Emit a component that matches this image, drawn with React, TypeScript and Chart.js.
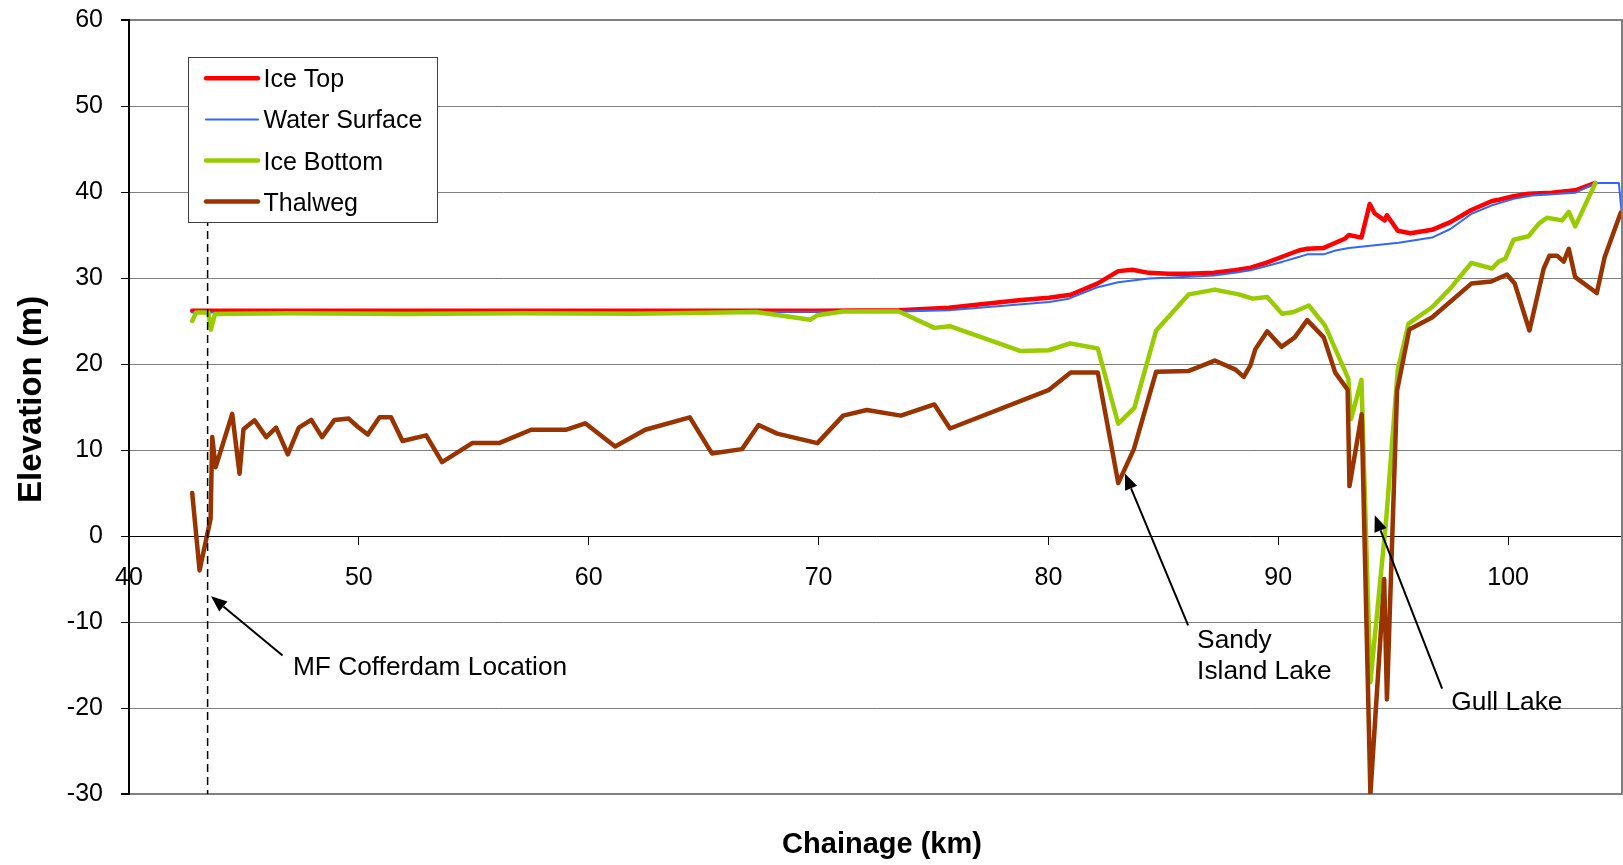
import React, { useEffect, useRef } from 'react';
import { Chart, registerables } from 'chart.js';

Chart.register(...registerables);

const FONT = '"Liberation Sans", Arial, Helvetica, sans-serif';

// ---- data: [chainage km, elevation m] ----
const iceTop: [number, number][] = [
  [42.75, 26.2], [50, 26.2], [60, 26.2], [70, 26.2], [73.5, 26.25], [75.67, 26.55], [78.7, 27.4],
  [80.03, 27.7], [80.97, 28.05], [82.13, 29.35], [83.04, 30.8], [83.65, 30.95], [84.37, 30.6],
  [85.2, 30.5], [86.1, 30.5], [87.2, 30.6], [88.1, 30.9], [88.8, 31.2], [89.5, 31.8], [90.2, 32.5],
  [90.89, 33.2], [91.26, 33.4], [91.98, 33.5], [92.49, 34.1], [92.92, 34.6], [93.07, 35.0],
  [93.62, 34.7], [93.98, 38.6], [94.2, 37.5], [94.63, 36.7], [94.73, 37.3], [95.2, 35.5],
  [95.75, 35.2], [96.69, 35.6], [97.49, 36.5], [98.4, 37.9], [99.3, 38.95], [99.6, 39.1],
  [100.24, 39.5], [100.89, 39.8], [101.9, 39.9], [102.92, 40.2], [103.8, 41.05],
];

const waterSurface: [number, number][] = [
  [42.75, 26.0], [60, 26.0], [73.5, 26.1], [75.67, 26.25], [80.03, 27.2], [80.89, 27.6], [82.1, 28.9],
  [83.04, 29.5], [84.37, 29.95], [86.1, 30.15], [87.2, 30.3], [88.1, 30.6], [88.8, 30.9],
  [89.5, 31.4], [90.2, 31.9], [90.89, 32.45], [91.26, 32.75], [91.98, 32.75], [92.49, 33.2],
  [93.07, 33.5], [95.24, 34.1], [96.69, 34.7], [97.49, 35.7], [98.43, 37.5], [99.3, 38.45],
  [100.24, 39.2], [101.04, 39.6], [102.92, 39.9], [103.8, 41.05], [104.82, 41.05], [104.93, 37.9],
];

const iceBottom: [number, number][] = [
  [42.75, 25.0], [42.92, 26.0], [43.45, 26.0], [43.56, 24.0], [43.74, 25.8], [47, 25.9], [52, 25.8],
  [57, 25.9], [62, 25.85], [67.3, 26.05], [69.65, 25.15], [69.94, 25.66], [71.06, 26.1],
  [73.5, 26.1], [75.04, 24.2], [75.71, 24.4], [78.8, 21.5], [80.02, 21.6], [80.95, 22.4],
  [82.15, 21.8], [83.04, 13.05], [83.74, 14.9], [84.69, 23.9], [86.11, 28.1], [87.24, 28.65],
  [88.28, 28.1], [88.89, 27.6], [89.52, 27.8], [90.17, 25.85], [90.67, 26.05], [91.33, 26.8],
  [92.03, 24.5], [93.05, 18.3], [93.17, 13.6], [93.62, 18.15], [94.01, -17.0], [94.7, 2.0],
  [95.2, 19.3], [95.67, 24.7], [96.69, 26.6], [97.49, 28.8], [98.4, 31.75], [99.3, 31.1],
  [99.59, 31.9], [99.88, 32.25], [100.24, 34.45], [100.89, 34.85], [101.33, 36.3], [101.69, 37.0],
  [102.35, 36.7], [102.64, 37.7], [102.92, 36.0], [103.8, 41.05],
];

const thalweg: [number, number][] = [
  [42.75, 5.0], [43.07, -4.0], [43.55, 2.0], [43.62, 11.5], [43.77, 8.0], [44.49, 14.2],
  [44.81, 7.25], [44.98, 12.4], [45.46, 13.45], [45.97, 11.5], [46.4, 12.6], [46.91, 9.5],
  [47.39, 12.6], [47.93, 13.5], [48.4, 11.5], [48.94, 13.5], [49.56, 13.65], [49.95, 12.7],
  [50.39, 11.8], [50.9, 13.8], [51.4, 13.8], [51.9, 11.05], [52.93, 11.7], [53.62, 8.6],
  [54.93, 10.8], [56.1, 10.8], [57.5, 12.35], [59.0, 12.35], [59.85, 13.1], [61.15, 10.4],
  [62.46, 12.35], [64.4, 13.8], [65.36, 9.6], [66.67, 10.1], [67.39, 12.9], [68.2, 11.9],
  [69.95, 10.8], [71.07, 14.0], [72.1, 14.65], [73.58, 14.0], [75.04, 15.3], [75.72, 12.5],
  [80.03, 17.0], [80.97, 19.0], [82.15, 19.0], [83.04, 6.15], [83.72, 10.1], [84.69, 19.1],
  [86.11, 19.2], [87.24, 20.4], [88.14, 19.35], [88.5, 18.5], [88.79, 19.85], [89.0, 21.7],
  [89.52, 23.8], [90.14, 22.0], [90.72, 23.1], [91.26, 25.1], [91.98, 23.1], [92.48, 19.0],
  [93.02, 17.0], [93.1, 5.8], [93.63, 14.15], [94.01, -30.0], [94.61, -5.0], [94.73, -19.0],
  [95.17, 16.9], [95.7, 24.0], [96.69, 25.4], [98.4, 29.35], [99.27, 29.6], [99.95, 30.4],
  [100.29, 29.35], [100.93, 23.9], [101.55, 31.1], [101.8, 32.6], [102.13, 32.6], [102.42, 31.9],
  [102.64, 33.4], [102.92, 30.1], [103.86, 28.25], [104.2, 32.4], [104.9, 37.6],
];

const seriesLabels = ['Ice Top', 'Water Surface', 'Ice Bottom', 'Thalweg'];
const xTicks = [40, 50, 60, 70, 80, 90, 100];

// ---- annotations (data coordinates) ----
const cofferdamKm = 43.42;
const cofferdamTop = 40;
const notes = [
  { lines: ['MF Cofferdam Location'], textKm: 47.13, textElev: -16.2, tail: [46.68, -13.9], tip: [43.57, -7.0] },
  { lines: ['Sandy', 'Island Lake'], textKm: 86.47, textElev: -12.98, tail: [86.08, -10.38], tip: [83.33, 7.26] },
  { lines: ['Gull Lake'], textKm: 97.53, textElev: -20.19, tail: [97.13, -17.74], tip: [94.2, 2.4] },
];

const COLORS = ['#FF0000', '#3366FF', '#99CC00', '#993300'];
const WIDTHS = [4.5, 2, 4.5, 4.5];

function drawArrow(ctx: CanvasRenderingContext2D, x1: number, y1: number, x2: number, y2: number) {
  const ang = Math.atan2(y2 - y1, x2 - x1);
  const len = 16;
  const hw = 6.5;
  const bx = x2 - len * Math.cos(ang);
  const by = y2 - len * Math.sin(ang);
  ctx.beginPath();
  ctx.moveTo(x1, y1);
  ctx.lineTo(bx, by);
  ctx.stroke();
  ctx.beginPath();
  ctx.moveTo(x2, y2);
  ctx.lineTo(bx + hw * Math.sin(ang), by - hw * Math.cos(ang));
  ctx.lineTo(bx - hw * Math.sin(ang), by + hw * Math.cos(ang));
  ctx.closePath();
  ctx.fill();
}

const overlayPlugin = {
  id: 'overlay',
  afterDatasetsDraw(chart: any) {
    const { ctx, chartArea } = chart;
    const xs = chart.scales.x;
    const ys = chart.scales.y;
    ctx.save();

    // right plot border
    ctx.strokeStyle = '#808080';
    ctx.lineWidth = 2;
    ctx.beginPath();
    ctx.moveTo(chartArea.right - 1, chartArea.top);
    ctx.lineTo(chartArea.right - 1, chartArea.bottom);
    ctx.stroke();

    // cofferdam dashed line
    const cx = xs.getPixelForValue(cofferdamKm);
    ctx.strokeStyle = '#000';
    ctx.lineWidth = 1.5;
    ctx.setLineDash([8, 5]);
    ctx.beginPath();
    ctx.moveTo(cx, ys.getPixelForValue(cofferdamTop));
    ctx.lineTo(cx, ys.getPixelForValue(-30));
    ctx.stroke();
    ctx.setLineDash([]);

    // arrows + labels
    ctx.fillStyle = '#000';
    ctx.strokeStyle = '#000';
    ctx.lineWidth = 2;
    ctx.font = `26.3px ${FONT}`;
    ctx.textAlign = 'left';
    ctx.textBaseline = 'alphabetic';
    notes.forEach((n) => {
      drawArrow(
        ctx,
        xs.getPixelForValue(n.tail[0]), ys.getPixelForValue(n.tail[1]),
        xs.getPixelForValue(n.tip[0]), ys.getPixelForValue(n.tip[1]),
      );
      const tx = xs.getPixelForValue(n.textKm);
      const ty = ys.getPixelForValue(n.textElev);
      n.lines.forEach((l, i) => ctx.fillText(l, tx, ty + i * 31));
    });

    // legend
    const lx = 188, ly = 57, lw = 249, lh = 165;
    ctx.fillStyle = '#fff';
    ctx.fillRect(lx, ly, lw, lh);
    ctx.strokeStyle = '#404040';
    ctx.lineWidth = 1;
    ctx.strokeRect(lx + 0.5, ly + 0.5, lw, lh);
    ctx.font = `25px ${FONT}`;
    ctx.lineCap = 'round';
    seriesLabels.forEach((label, i) => {
      const ry = 78.3 + i * 41.1;
      ctx.strokeStyle = COLORS[i];
      ctx.lineWidth = WIDTHS[i];
      ctx.beginPath();
      ctx.moveTo(206, ry);
      ctx.lineTo(258, ry);
      ctx.stroke();
      ctx.fillStyle = '#000';
      ctx.fillText(label, 263.5, ry + 9);
    });

    // x axis title
    ctx.font = `bold 29px ${FONT}`;
    ctx.textAlign = 'center';
    ctx.fillStyle = '#000';
    ctx.fillText('Chainage (km)', (chartArea.left + chartArea.right) / 2 + 6, 853);

    // y axis title
    ctx.save();
    ctx.translate(40.5, 503);
    ctx.rotate(-Math.PI / 2);
    ctx.font = `bold 33px ${FONT}`;
    ctx.textAlign = 'left';
    ctx.textBaseline = 'alphabetic';
    ctx.fillText('Elevation (m)', 0, 0);
    ctx.restore();

    ctx.restore();
  },
};

export default function App() {
  const ref = useRef<HTMLCanvasElement | null>(null);

  useEffect(() => {
    if (!ref.current) return;
    Chart.defaults.font.family = FONT;
    Chart.defaults.color = '#000';
    const series = [iceTop, waterSurface, iceBottom, thalweg];
    const chart = new Chart(ref.current, {
      type: 'line',
      data: {
        datasets: series.map((s, i) => ({
          label: seriesLabels[i],
          data: s.map(([x, y]) => ({ x, y })),
          borderColor: COLORS[i],
          backgroundColor: COLORS[i],
          borderWidth: WIDTHS[i],
          pointRadius: 0,
          tension: 0,
          fill: false,
          borderJoinStyle: 'round' as const,
          borderCapStyle: 'round' as const,
          order: 4 - i,
        })),
      },
      options: {
        animation: false,
        responsive: false,
        maintainAspectRatio: false,
        layout: { padding: { top: 20, right: 0, bottom: 71, left: 0 } },
        plugins: {
          legend: { display: false },
          tooltip: { enabled: false },
          title: { display: false },
        },
        scales: {
          x: {
            type: 'linear',
            position: { y: 0 } as any,
            min: 40,
            max: 105,
            afterBuildTicks: (s: any) => {
              s.ticks = xTicks.map((v) => ({ value: v }));
            },
            afterFit: (s: any) => {
              s.paddingLeft = 0;
              s.paddingRight = 0;
              s.paddingTop = 0;
              s.paddingBottom = 0;
            },
            ticks: {
              font: { size: 25 },
              color: '#000',
              padding: 19,
              maxRotation: 0,
              autoSkip: false,
            },
            grid: {
              drawOnChartArea: false,
              drawTicks: true,
              tickLength: 8,
              tickColor: '#000',
              color: '#000',
            },
            border: { display: true, color: '#000', width: 1 },
          },
          y: {
            type: 'linear',
            position: 'left',
            min: -30,
            max: 60,
            ticks: { stepSize: 10, font: { size: 25 }, color: '#000', padding: 18 },
            afterFit: (s: any) => {
              s.width = 129;
              s.paddingTop = 0;
              s.paddingBottom = 0;
            },
            grid: {
              color: '#808080',
              lineWidth: (c: any) => (c.tick && (c.tick.value === -30 || c.tick.value === 60) ? 2 : 1),
              tickLength: 8,
              tickColor: '#000',
            },
            border: { display: true, color: '#000', width: 2 },
            title: { display: false },
          },
        },
      },
      plugins: [overlayPlugin],
    });
    return () => chart.destroy();
  }, []);

  return (
    <div style={{ position: 'absolute', left: 0, top: 0, width: 1623, height: 865, background: '#fff' }}>
      <canvas ref={ref} width={1623} height={865} style={{ width: 1623, height: 865, display: 'block' }} />
    </div>
  );
}
